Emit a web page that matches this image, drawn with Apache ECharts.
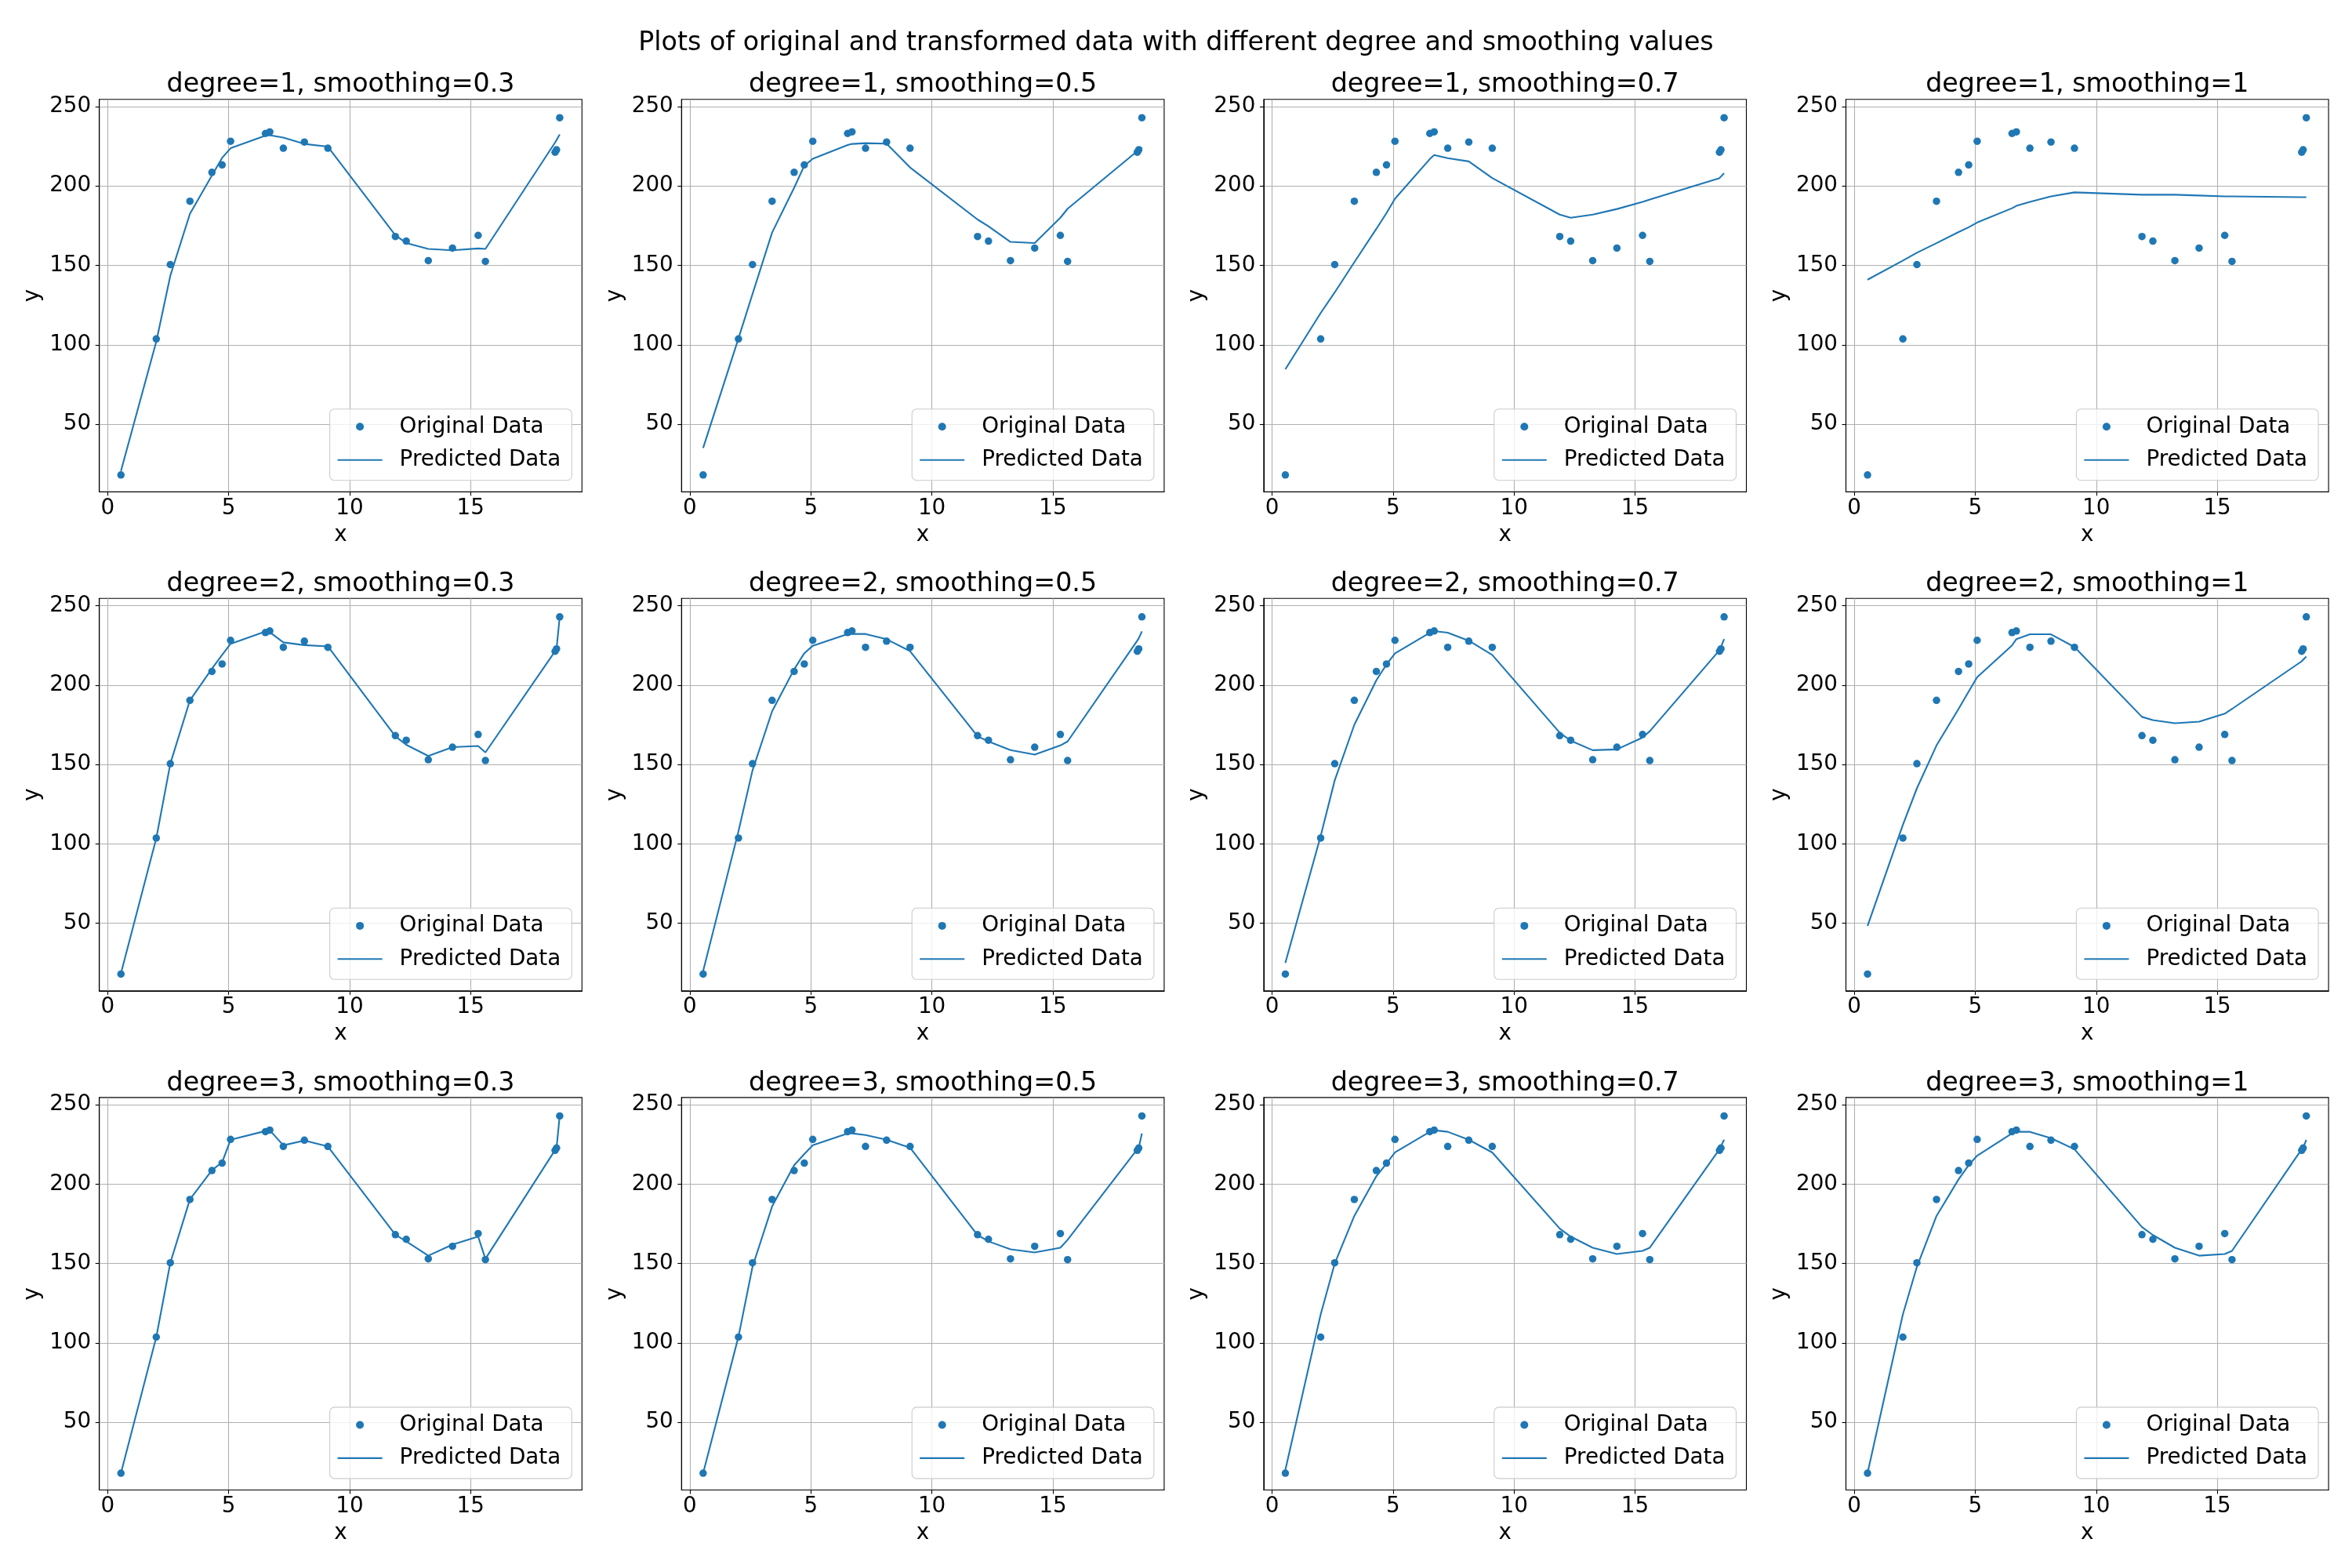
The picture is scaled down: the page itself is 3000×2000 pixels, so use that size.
<!DOCTYPE html>
<html><head><meta charset="utf-8">
<script src="https://cdn.jsdelivr.net/npm/echarts@6/dist/echarts.min.js"></script>
<style>html,body{margin:0;padding:0;background:#fff}#c{width:3000px;height:2000px}</style>
</head><body><div id="c"></div>
<script>
// ---- data ----
const mainTitle = 'Plots of original and transformed data with different degree and smoothing values';
const degrees = [1, 2, 3];
const smoothings = ['0.3', '0.5', '0.7', '1'];
const seriesNames = ['Original Data', 'Predicted Data'];
const xTicks = [0, 5, 10, 15];
const yTicks = [50, 100, 150, 200, 250];

const xData = [0.55, 2.01, 2.59, 3.40, 4.31, 4.73, 5.08, 6.52, 6.70, 7.26, 8.13, 9.10, 11.89, 12.34, 13.25, 14.25, 15.31, 15.61, 18.49, 18.55, 18.68];
const yData = [18.0, 103.7, 150.5, 190.4, 208.6, 213.3, 228.2, 233.1, 234.1, 223.8, 227.7, 223.8, 168.2, 165.3, 153.0, 160.9, 168.9, 152.5, 221.3, 222.8, 243.0];

const pred_d1_s03 = [20.5, 102.0, 143.5, 182.5, 206.7, 217.7, 223.8, 231.7, 232.0, 230.5, 226.5, 224.8, 169.0, 164.1, 160.4, 159.5, 160.7, 160.4, 227.4, 228.0, 232.5];
const pred_d1_s05 = [35.0, 104.0, 132.0, 170.7, 198.9, 212.8, 217.2, 225.8, 226.5, 227.0, 226.7, 211.7, 178.9, 174.6, 164.8, 164.1, 180.0, 185.7, 222.0, 222.5, 224.4];
const pred_d1_s07 = [84.6, 120.0, 133.0, 152.0, 173.0, 183.0, 192.0, 217.0, 219.5, 217.5, 215.5, 205.0, 182.0, 180.0, 182.0, 185.5, 190.0, 191.5, 205.0, 205.5, 208.0];
const pred_d1_s1  = [141.0, 153.0, 158.0, 164.0, 171.0, 174.0, 177.0, 186.0, 187.5, 190.0, 193.5, 196.0, 194.5, 194.5, 194.5, 194.0, 193.5, 193.5, 193.0, 193.0, 193.0];
const pred_d2_s03 = [18.5, 103.5, 150.5, 190.4, 210.4, 219.0, 226.0, 233.8, 233.3, 226.9, 225.2, 224.4, 167.8, 162.4, 155.4, 160.9, 161.7, 157.6, 221.4, 223.0, 242.9];
const pred_d2_s05 = [20.0, 108.0, 146.3, 183.5, 209.9, 220.1, 224.8, 232.2, 232.2, 232.2, 228.9, 221.4, 167.8, 164.5, 159.1, 156.2, 162.0, 164.5, 228.0, 229.5, 233.8];
const pred_d2_s07 = [25.0, 105.0, 140.0, 175.0, 203.0, 213.0, 220.0, 233.0, 234.0, 233.0, 228.0, 219.0, 170.0, 165.0, 159.0, 159.5, 167.0, 171.0, 222.0, 224.0, 229.0];
const pred_d2_s1  = [48.3, 112.0, 135.0, 162.0, 185.0, 196.0, 205.0, 225.0, 229.0, 232.0, 232.0, 224.0, 180.0, 178.0, 176.0, 177.0, 182.0, 185.0, 215.0, 216.0, 218.0];
const pred_d3_s03 = [18.0, 103.7, 150.5, 190.4, 208.8, 213.8, 228.0, 233.5, 234.0, 224.5, 227.5, 223.8, 168.2, 164.0, 155.0, 162.0, 167.0, 153.0, 221.5, 223.0, 243.0];
const pred_d3_s05 = [18.0, 104.0, 148.0, 186.0, 212.0, 219.0, 224.5, 232.0, 232.0, 231.0, 228.0, 223.0, 168.0, 164.0, 159.0, 157.0, 160.0, 165.0, 222.0, 223.0, 232.0];
const pred_d3_s07 = [20.0, 118.0, 150.0, 180.0, 205.0, 213.0, 220.0, 233.0, 234.0, 233.0, 228.0, 220.0, 172.0, 167.0, 160.0, 156.0, 158.0, 160.0, 222.0, 224.0, 228.0];
const pred_d3_s1  = [18.0, 118.0, 148.0, 180.0, 203.0, 212.0, 218.0, 232.0, 233.0, 233.0, 229.0, 222.0, 173.0, 168.0, 160.0, 155.0, 156.0, 158.0, 222.0, 223.0, 228.0];

const predictions = [
  [pred_d1_s03, pred_d1_s05, pred_d1_s07, pred_d1_s1],
  [pred_d2_s03, pred_d2_s05, pred_d2_s07, pred_d2_s1],
  [pred_d3_s03, pred_d3_s05, pred_d3_s07, pred_d3_s1]
];

// ---- layout / style ----
const W = 3000, H = 2000;
const L0 = 126.7, T0 = 126.7, GW = 615.6, GH = 500.6, CP = 742.6, RP = 636.6;
const X_MIN = -0.343, X_MAX = 19.6, Y_MIN = 7.4, Y_MAX = 254.6;
const BLUE = '#1f77b4';
const FONT = 'DejaVu Sans';
const FS = 27.8, TFS = 33.3;
const LINE_ICON = 'path://M0,0 L57,0 L57,2.1 L0,2.1 Z';

const grids = [], xAxes = [], yAxes = [], series = [], legends = [], graphics = [];
graphics.push({type: 'text', x: 1500, y: 55, style: {text: mainTitle, fontFamily: FONT, fontSize: TFS, fill: '#000', textAlign: 'center', textVerticalAlign: 'middle'}});

let idx = 0;
degrees.forEach((deg, r) => {
  smoothings.forEach((sm, c) => {
    const left = L0 + c * CP, top = T0 + r * RP;
    grids.push({left: left, top: top, width: GW, height: GH, show: true, borderColor: '#000', borderWidth: 1.1, backgroundColor: 'transparent', containLabel: false});
    xAxes.push({
      type: 'value', gridIndex: idx, min: X_MIN, max: X_MAX,
      name: 'x', nameLocation: 'middle', nameGap: 41,
      nameTextStyle: {fontFamily: FONT, fontSize: FS, color: '#000'},
      axisLine: {show: true, onZero: false, lineStyle: {color: '#000', width: 1.1}},
      axisTick: {show: true, length: 5, customValues: xTicks, lineStyle: {color: '#000', width: 1.1}},
      axisLabel: {customValues: xTicks, margin: 7, fontFamily: FONT, fontSize: FS, color: '#000'},
      splitLine: {show: true, lineStyle: {color: '#b0b0b0', width: 1.1}}
    });
    yAxes.push({
      type: 'value', gridIndex: idx, min: Y_MIN, max: Y_MAX,
      name: 'y', nameLocation: 'middle', nameGap: 71,
      nameTextStyle: {fontFamily: FONT, fontSize: FS, color: '#000'},
      axisLine: {show: true, onZero: false, lineStyle: {color: '#000', width: 1.1}},
      axisTick: {show: true, length: 5, customValues: yTicks, lineStyle: {color: '#000', width: 1.1}},
      axisLabel: {customValues: yTicks, margin: 10.5, fontFamily: FONT, fontSize: FS, color: '#000'},
      splitLine: {show: true, lineStyle: {color: '#b0b0b0', width: 1.1}}
    });
    series.push({
      type: 'scatter', name: seriesNames[0], xAxisIndex: idx, yAxisIndex: idx,
      symbolSize: 9.5, itemStyle: {color: BLUE, opacity: 1},
      data: xData.map((x, k) => [x, yData[k]]), z: 3
    });
    series.push({
      type: 'line', name: seriesNames[1], xAxisIndex: idx, yAxisIndex: idx,
      symbol: 'none', showSymbol: false, lineStyle: {color: BLUE, width: 2.1}, itemStyle: {color: BLUE},
      data: xData.map((x, k) => [x, predictions[r][c][k]]), z: 4
    });
    legends.push({
      orient: 'vertical', align: 'left',
      right: W - (left + GW - 13), bottom: H - (top + GH - 14.6),
      data: [{name: seriesNames[0], icon: 'circle'}, {name: seriesNames[1], icon: LINE_ICON}],
      itemWidth: 57, itemHeight: 10, itemGap: 12.4,
      padding: [7.6, 14, 11, 10],
      textStyle: {fontFamily: FONT, fontSize: FS, color: '#000', lineHeight: 30, padding: [0, 0, 0, 17]},
      backgroundColor: 'rgba(255,255,255,0.8)', borderColor: '#cccccc', borderWidth: 1.1, borderRadius: 6,
      selectedMode: false
    });
    graphics.push({type: 'text', x: left + GW / 2, y: top - 18, style: {text: 'degree=' + deg + ', smoothing=' + sm, fontFamily: FONT, fontSize: TFS, fill: '#000', textAlign: 'center', textVerticalAlign: 'middle'}});
    idx++;
  });
});

const chart = echarts.init(document.getElementById('c'), null, {renderer: 'canvas', width: W, height: H});
chart.setOption({
  animation: false,
  backgroundColor: '#fff',
  textStyle: {fontFamily: FONT},
  grid: grids, xAxis: xAxes, yAxis: yAxes, series: series, legend: legends, graphic: graphics
});
</script></body></html>
